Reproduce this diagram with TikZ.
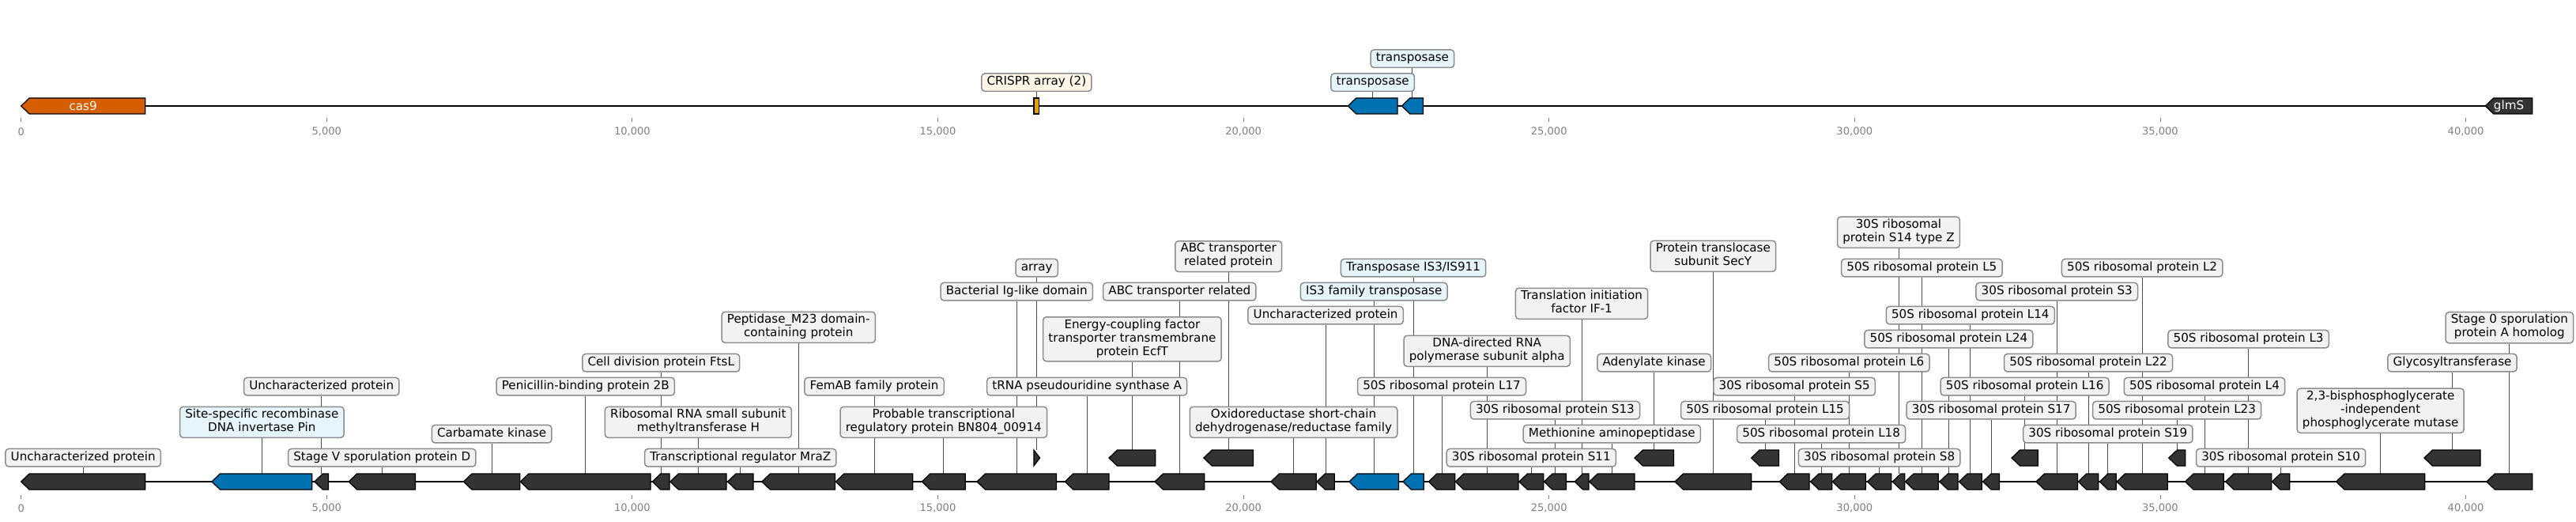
\documentclass[tikz,border=0pt]{standalone}
\usepackage{fontspec}
\setmainfont{DejaVu Sans}
\usepackage{xcolor}
\definecolor{genegray}{HTML}{333333}
\definecolor{geneblue}{HTML}{0072B2}
\definecolor{geneorange}{HTML}{D55E00}
\definecolor{crisprorange}{HTML}{E69F00}
\definecolor{boxgray}{HTML}{F2F2F2}
\definecolor{boxblue}{HTML}{E6F4FC}
\definecolor{boxcream}{HTML}{FDF6E6}
\definecolor{boxedge}{HTML}{8C8C8C}
\definecolor{leadgray}{HTML}{4D4D4D}
\definecolor{tickgray}{HTML}{808080}
\pgfdeclarelayer{leads}
\pgfsetlayers{leads,main}

\begin{document}
\begin{tikzpicture}[x=55.67pt, y=0.72pt,
    gene/.style={draw=black, line width=0.9pt, line join=miter},
    lbl/.style={draw=boxedge, line width=1.08pt, fill=boxgray, rounded corners=3pt,
        align=center, inner xsep=4.86pt, inner ysep=1.98pt,
        font=\fontsize{10.9}{12.24}\selectfont,
        execute at begin node=\strut, execute at end node=\strut},
    lead/.style={draw=leadgray, line width=0.7pt},
    backbone/.style={line width=1.4pt},
    ticklbl/.style={text=tickgray, font=\fontsize{9.4}{11}\selectfont}]
        \useasboundingbox (-0.3453,0) rectangle (41.804,659);
        % Top track
        \draw[backbone] (0,525) -- (41.09,525);
        \foreach \n/\s/\e/\c in {cas9/0.00/2.03/geneorange, tpA/21.71/22.52/geneblue,
                                 tpB/22.59/22.94/geneblue, glmS/40.32/41.09/genegray} {
            \pgfmathsetmacro{\h}{min(0.135,\e-\s)}
            \draw[gene, fill=\c] (\s,525) -- (\s+\h,535) -- (\e,535) -- (\e,515) -- (\s+\h,515) -- cycle;
            \coordinate (\n) at ({(\s+\e)/2},535);
        }
        \draw[gene, fill=crisprorange] (16.57,515) rectangle (16.66,535);
        \coordinate (crispr) at (16.615,535);
        \node[text=white, font=\fontsize{10.9}{12.24}\selectfont] (cas9txt) at (1.015,525) {cas9};
        \node[text=white, font=\fontsize{10.9}{12.24}\selectfont] (glmStxt) at (40.705,525) {glmS};
        \node[lbl, fill=boxcream] (labcrispr) at (crispr |- 0,554.8) {CRISPR array (2)};
        \node[lbl, fill=boxblue] (labtpA) at (tpA |- 0,554.8) {transposase};
        \node[lbl, fill=boxblue] (labtpB) at (tpB |- 0,584.8) {transposase};
        % Bottom track
        \draw[backbone] (0,50) -- (41.09,50);
        \foreach \n/\s/\e/\r/\c in {u1/0.00/2.03/50/genegray, pin/3.12/4.76/50/geneblue,
                                    u2/4.80/5.03/50/genegray, spoVD/5.36/6.45/50/genegray,
                                    ck/7.24/8.16/50/genegray, pbp/8.17/10.30/50/genegray,
                                    ftsL/10.33/10.61/50/genegray, rsmH/10.62/11.54/50/genegray,
                                    mraZ/11.56/11.98/50/genegray, mtt/12.12/13.32/50/genegray,
                                    femAB/13.33/14.59/50/genegray, bn/14.74/15.45/50/genegray,
                                    ig/15.64/16.94/50/genegray, truA/17.08/17.80/50/genegray,
                                    ecfT/17.80/18.56/80/genegray, abcA/18.55/19.36/50/genegray,
                                    abcB/19.35/20.16/80/genegray, sdr/20.45/21.19/50/genegray,
                                    u3/21.20/21.49/50/genegray, isA/21.73/22.54/50/geneblue,
                                    isB/22.61/22.95/50/geneblue, l17/23.03/23.46/50/genegray,
                                    rpoA/23.47/24.50/50/genegray, s11/24.51/24.91/50/genegray,
                                    s13/24.92/25.28/50/genegray, if1/25.42/25.65/50/genegray,
                                    map/25.66/26.40/50/genegray, adk/26.40/27.04/80/genegray,
                                    secY/27.06/28.31/50/genegray, l15/28.31/28.76/80/genegray,
                                    s5/28.77/29.26/50/genegray, l18/29.28/29.63/50/genegray,
                                    l6/29.64/30.18/50/genegray, s8/30.21/30.60/50/genegray,
                                    s14/30.62/30.82/50/genegray, l5/30.83/31.37/50/genegray,
                                    l24/31.39/31.69/50/genegray, l14/31.71/32.08/50/genegray,
                                    s17/32.10/32.37/50/genegray, l16/32.57/33.00/80/genegray,
                                    s3/32.97/33.65/50/genegray, l22/33.66/33.99/50/genegray,
                                    s19/34.01/34.28/50/genegray, l2/34.29/35.12/50/genegray,
                                    l23/35.14/35.41/80/genegray, l4/35.41/36.04/50/genegray,
                                    l3/36.07/36.82/50/genegray, s10/36.83/37.12/50/genegray,
                                    gpmI/37.88/39.33/50/genegray, gt/39.32/40.24/80/genegray,
                                    spo/40.34/41.09/50/genegray} {
            \pgfmathsetmacro{\h}{min(0.135,\e-\s)}
            \draw[gene, fill=\c] (\s,\r) -- (\s+\h,\r+10) -- (\e,\r+10) -- (\e,\r-10) -- (\s+\h,\r-10) -- cycle;
            \coordinate (\n) at ({(\s+\e)/2},\r+10);
        }
        \draw[gene, fill=genegray] (16.57,90) -- (16.67,80) -- (16.57,70) -- cycle;
        \coordinate (arr) at (16.62,90);
        % Labels
        \node[lbl] (labu1) at (u1 |- 0,80.3) {Uncharacterized protein};
        \node[lbl, fill=boxblue] (labpin) at (pin |- 0,125.2) {Site-specific recombinase\\DNA invertase Pin};
        \node[lbl] (labu2) at (u2 |- 0,170.3) {Uncharacterized protein};
        \node[lbl] (labspoVD) at (spoVD |- 0,80.3) {Stage V sporulation protein D};
        \node[lbl] (labck) at (ck |- 0,110.3) {Carbamate kinase};
        \node[lbl] (labpbp) at (pbp |- 0,170.3) {Penicillin-binding protein 2B};
        \node[lbl] (labftsL) at (ftsL |- 0,200.3) {Cell division protein FtsL};
        \node[lbl] (labrsmH) at (rsmH |- 0,125.2) {Ribosomal RNA small subunit\\methyltransferase H};
        \node[lbl] (labmraZ) at (mraZ |- 0,80.3) {Transcriptional regulator MraZ};
        \node[lbl] (labmtt) at (mtt |- 0,245.2) {Peptidase\_M23 domain-\\containing protein};
        \node[lbl] (labfemAB) at (femAB |- 0,170.3) {FemAB family protein};
        \node[lbl] (labbn) at (bn |- 0,125.2) {Probable transcriptional\\regulatory protein BN804\_00914};
        \node[lbl] (labig) at (ig |- 0,290.3) {Bacterial Ig-like domain};
        \node[lbl] (labarr) at (arr |- 0,320.3) {array};
        \node[lbl] (labtruA) at (truA |- 0,170.3) {tRNA pseudouridine synthase A};
        \node[lbl] (labecfT) at (ecfT |- 0,230.2) {Energy-coupling factor\\transporter transmembrane\\protein EcfT};
        \node[lbl] (lababcA) at (abcA |- 0,290.3) {ABC transporter related};
        \node[lbl] (lababcB) at (abcB |- 0,334.8) {ABC transporter\\related protein};
        \node[lbl] (labsdr) at (sdr |- 0,125.2) {Oxidoreductase short-chain\\dehydrogenase/reductase family};
        \node[lbl] (labu3) at (u3 |- 0,260.3) {Uncharacterized protein};
        \node[lbl, fill=boxblue] (labisA) at (isA |- 0,290.3) {IS3 family transposase};
        \node[lbl, fill=boxblue] (labisB) at (isB |- 0,320.3) {Transposase IS3/IS911};
        \node[lbl] (labl17) at (l17 |- 0,170.3) {50S ribosomal protein L17};
        \node[lbl] (labrpoA) at (rpoA |- 0,215.2) {DNA-directed RNA\\polymerase subunit alpha};
        \node[lbl] (labs11) at (s11 |- 0,80.3) {30S ribosomal protein S11};
        \node[lbl] (labs13) at (s13 |- 0,140.3) {30S ribosomal protein S13};
        \node[lbl] (labif1) at (if1 |- 0,275.2) {Translation initiation\\factor IF-1};
        \node[lbl] (labmap) at (map |- 0,110.3) {Methionine aminopeptidase};
        \node[lbl] (labadk) at (adk |- 0,200.3) {Adenylate kinase};
        \node[lbl] (labsecY) at (secY |- 0,335.2) {Protein translocase\\subunit SecY};
        \node[lbl] (labl15) at (l15 |- 0,140.3) {50S ribosomal protein L15};
        \node[lbl] (labs5) at (s5 |- 0,170.3) {30S ribosomal protein S5};
        \node[lbl] (labl18) at (l18 |- 0,110.3) {50S ribosomal protein L18};
        \node[lbl] (labl6) at (l6 |- 0,200.3) {50S ribosomal protein L6};
        \node[lbl] (labs8) at (s8 |- 0,80.3) {30S ribosomal protein S8};
        \node[lbl] (labs14) at (s14 |- 0,365.3) {30S ribosomal\\protein S14 type Z};
        \node[lbl] (labl5) at (l5 |- 0,320.3) {50S ribosomal protein L5};
        \node[lbl] (labl24) at (l24 |- 0,230.3) {50S ribosomal protein L24};
        \node[lbl] (labl14) at (l14 |- 0,260.3) {50S ribosomal protein L14};
        \node[lbl] (labs17) at (s17 |- 0,140.3) {30S ribosomal protein S17};
        \node[lbl] (labl16) at (l16 |- 0,170.3) {50S ribosomal protein L16};
        \node[lbl] (labs3) at (s3 |- 0,290.3) {30S ribosomal protein S3};
        \node[lbl] (labl22) at (l22 |- 0,200.3) {50S ribosomal protein L22};
        \node[lbl] (labs19) at (s19 |- 0,110.3) {30S ribosomal protein S19};
        \node[lbl] (labl2) at (l2 |- 0,320.3) {50S ribosomal protein L2};
        \node[lbl] (labl23) at (l23 |- 0,140.3) {50S ribosomal protein L23};
        \node[lbl] (labl4) at (l4 |- 0,170.3) {50S ribosomal protein L4};
        \node[lbl] (labl3) at (l3 |- 0,230.3) {50S ribosomal protein L3};
        \node[lbl] (labs10) at (s10 |- 0,80.3) {30S ribosomal protein S10};
        \node[lbl] (labgpmI) at (gpmI |- 0,139.8) {2,3-bisphosphoglycerate\\-independent\\phosphoglycerate mutase};
        \node[lbl] (labgt) at (gt |- 0,200.3) {Glycosyltransferase};
        \node[lbl] (labspo) at (spo |- 0,244.8) {Stage 0 sporulation\\protein A homolog};
        % Leader lines
        \begin{pgfonlayer}{leads}
            \foreach \n in {crispr,tpA,tpB,u1,pin,u2,spoVD,ck,pbp,ftsL,rsmH,mraZ,mtt,femAB,bn,ig,arr,
                            truA,ecfT,abcA,abcB,sdr,u3,isA,isB,l17,rpoA,s11,s13,if1,map,adk,secY,
                            l15,s5,l18,l6,s8,s14,l5,l24,l14,s17,l16,s3,l22,s19,l2,l23,l4,l3,s10,
                            gpmI,gt,spo} {
                \draw[lead] (\n) -- (\n |- lab\n.south);
            }
        \end{pgfonlayer}
        % Axes
        \foreach \k/\t in {0/0,5/{5,000},10/{10,000},15/{15,000},20/{20,000},
                           25/{25,000},30/{30,000},35/{35,000},40/{40,000}} {
            \draw[tickgray, line width=0.6pt] (\k,509.7) -- (\k,504.7);
            \node[ticklbl] (top\k) at (\k,492.3) {\t};
            \draw[tickgray, line width=0.6pt] (\k,33.3) -- (\k,28.3);
            \node[ticklbl] (bot\k) at (\k,16.7) {\t};
        }
    \end{tikzpicture}
\end{document}
